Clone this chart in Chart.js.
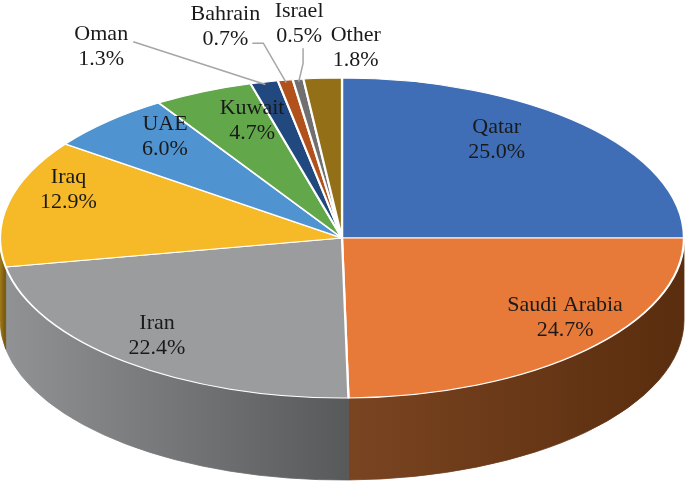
<!DOCTYPE html>
<html>
<head>
<meta charset="utf-8">
<script src="https://cdn.jsdelivr.net/npm/chart.js@4.4.1/dist/chart.umd.min.js"></script>
<style>
  html, body { margin: 0; padding: 0; background: #fff; }
  #wrap { width: 685px; height: 482px; position: relative; }
</style>
</head>
<body>
<div id="wrap"><canvas id="pieChart"></canvas></div>
<script>
// data
const countries = ['Qatar', 'Saudi Arabia', 'Iran', 'Iraq', 'UAE', 'Kuwait', 'Oman', 'Bahrain', 'Israel', 'Other'];
const shares = [25.0, 24.7, 22.4, 12.9, 6.0, 4.7, 1.3, 0.7, 0.5, 1.8];

// colours of the top face and of the side wall (light -> dark)
const topColors = ['#3f6eb6', '#e87a39', '#9a9c9d', '#f6b928', '#4f94d0', '#63a74b', '#21487f', '#b1511c', '#707070', '#936f17'];
const sideLight = ['#2a4a7a', '#7a4421', '#909294', '#a07a18', '#33608a', '#406d30', '#152e52', '#713412', '#4a4a4a', '#5f480f'];
const sideDark  = ['#1d3457', '#592d0e', '#58595b', '#6e540f', '#234262', '#2c4b21', '#0e203a', '#4f240c', '#333333', '#42320a'];

// label placement: [radial factor, dx, dy] from the slice's mid point
const labelPlace = [
    [0.64, 0, -26],
    [0.914, 0, -23],
    [0.855, 0, -8],
    [0.82, 0, -19],
    [0.756, 0, -13],
    [0.648, 0, -23],
    [1, -163, -35],
    [1, -60, -53],
    [1, 1, -56],
    [1, 33, -31]
];
// leader line points, relative to the label centre
const leaders = [null, null, null, null, null, null,
    [[32, -5.5]],
    [[27, 16], [38, 16]],
    [[4, 25], [4, 40]],
    null];

const pie3d = { cx: 342, cy: 238, rx: 342, ry: 160, depth: 82 };

const pie3dPlugin = {
    id: 'pie3d',
    beforeDatasetsDraw(chart) {
        const ctx = chart.ctx;
        const arcs = chart.getDatasetMeta(0).data;
        const { cx, cy, rx, ry, depth } = pie3d;

        // side walls, front half only
        arcs.forEach((arc, i) => {
            const s = Math.max(arc.startAngle, 0);
            const e = Math.min(arc.endAngle, Math.PI);
            if (e <= s) return;
            const left = cx + rx * Math.cos(e);
            const right = cx + rx * Math.cos(s);
            const grad = ctx.createLinearGradient(left, 0, right, 0);
            grad.addColorStop(0, sideLight[i]);
            grad.addColorStop(1, sideDark[i]);
            ctx.beginPath();
            ctx.ellipse(cx, cy, rx, ry, 0, s, e);
            ctx.lineTo(cx + rx * Math.cos(e), cy + depth + ry * Math.sin(e));
            ctx.ellipse(cx, cy + depth, rx, ry, 0, e, s, true);
            ctx.closePath();
            ctx.fillStyle = grad;
            ctx.fill();
            ctx.strokeStyle = grad;
            ctx.lineWidth = 0.8;
            ctx.stroke();
        });

        // squash the pie into the top ellipse
        const a0 = arcs[0];
        const R = a0.outerRadius;
        ctx.save();
        ctx.translate(cx, cy);
        ctx.scale(rx / R, ry / R);
        ctx.translate(-a0.x, -a0.y);
    },
    afterDatasetsDraw(chart) {
        const ctx = chart.ctx;
        ctx.restore();
        const arcs = chart.getDatasetMeta(0).data;
        const { cx, cy, rx, ry } = pie3d;

        ctx.save();
        ctx.font = '22px "Liberation Serif", "Times New Roman", serif';
        ctx.textAlign = 'center';
        ctx.textBaseline = 'middle';
        arcs.forEach((arc, i) => {
            const mid = (arc.startAngle + arc.endAngle) / 2;
            const [f, dx, dy] = labelPlace[i];
            const lx = cx + rx * f * Math.cos(mid) + dx;
            const ly = cy + ry * f * Math.sin(mid) + dy;

            if (leaders[i]) {
                ctx.beginPath();
                leaders[i].forEach((p, k) => {
                    if (k === 0) ctx.moveTo(lx + p[0], ly + p[1]);
                    else ctx.lineTo(lx + p[0], ly + p[1]);
                });
                ctx.lineTo(cx + rx * 0.985 * Math.cos(mid), cy + ry * 0.985 * Math.sin(mid));
                ctx.strokeStyle = '#a6a6a6';
                ctx.lineWidth = 1.5;
                ctx.stroke();
            }

            ctx.fillStyle = '#1a1a1a';
            ctx.fillText(countries[i], lx, ly - 12.5);
            ctx.fillText(shares[i].toFixed(1) + '%', lx, ly + 12.5);
        });
        ctx.restore();
    }
};

const ctx = document.getElementById('pieChart').getContext('2d');

const gasChart = new Chart(ctx, {
    type: 'pie',
    data: {
        labels: countries,
        datasets: [{
            data: shares,
            backgroundColor: topColors,
            borderColor: '#ffffff',
            borderWidth: 1.6,
            clip: false
        }]
    },
    options: {
        responsive: true,
        maintainAspectRatio: false,
        animation: false,
        events: [],
        layout: { padding: 0 },
        plugins: {
            legend: { display: false },
            tooltip: { enabled: false }
        }
    },
    plugins: [pie3dPlugin]
});
</script>
</body>
</html>
